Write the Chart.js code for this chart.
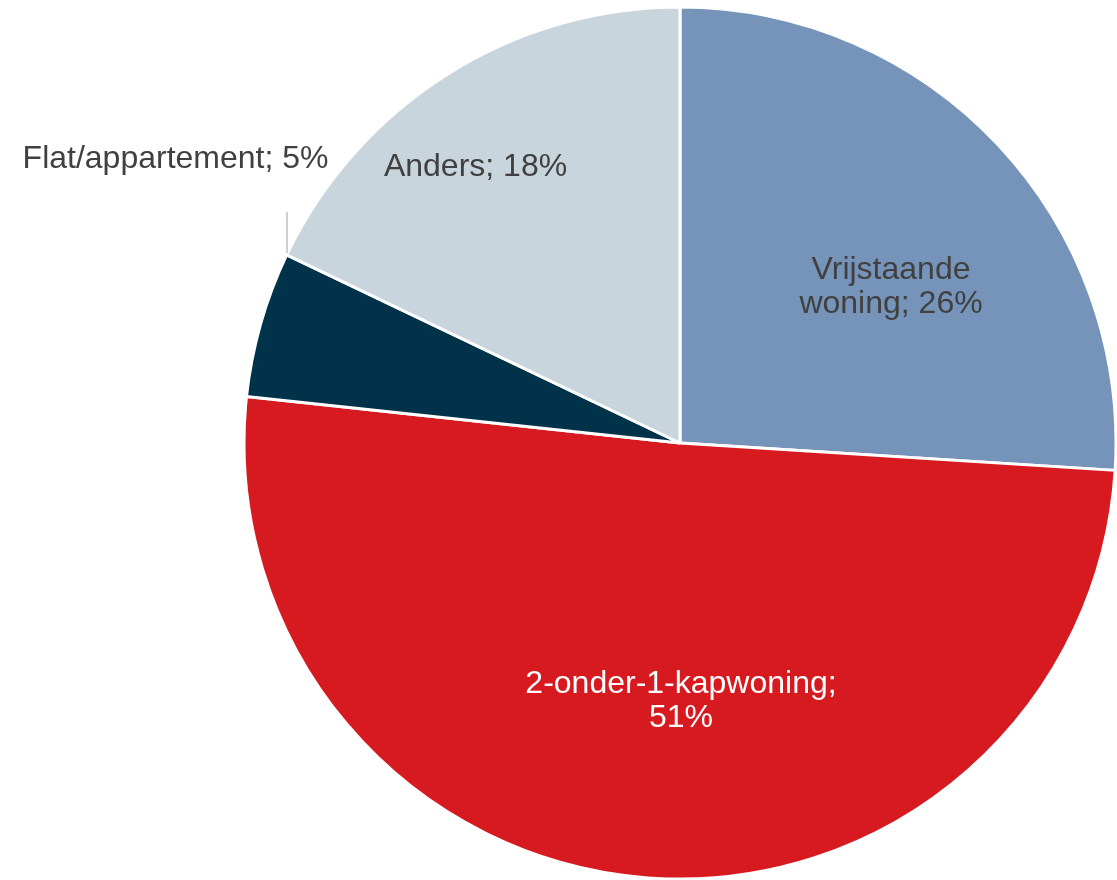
<!DOCTYPE html>
<html>
<head>
<meta charset="utf-8">
<script src="https://cdn.jsdelivr.net/npm/chart.js@4/dist/chart.umd.min.js"></script>
<style>
html,body{margin:0;padding:0;background:#fff;}
#wrap{width:1117px;height:880px;position:relative;}
</style>
</head>
<body>
<div id="wrap"><canvas id="c" width="1117" height="880"></canvas></div>
<script>
const categories = ['Vrijstaande woning', '2-onder-1-kapwoning', 'Flat/appartement', 'Anders'];
const values = [26.0, 50.7, 5.4, 17.9];
// label text split into lines; the percentage is appended from the values
const labelNameLines = [['Vrijstaande', 'woning; '], ['2-onder-1-kapwoning;', ''], ['Flat/appartement; '], ['Anders; ']];
const sliceColors = ['#7694B9', '#D71920', '#003349', '#C8D5DC'];
const labelColors = ['#404040', '#FFFFFF', '#404040', '#404040'];
// first-line baseline anchor relative to pie centre, in units of radius
const labelLayout = [
  {dx: 0.484, dy: -0.376},
  {dx: 0.0023, dy: 0.573},
  {dx: -1.157, dy: -0.631, leaderGap: 0.101},
  {dx: -0.469, dy: -0.613}
];

const labelPlugin = {
  id: 'pieLabels',
  afterDatasetsDraw(chart) {
    const ctx = chart.ctx;
    const meta = chart.getDatasetMeta(0);
    const total = values.reduce((a, b) => a + b, 0);
    ctx.save();
    ctx.font = '32px "Liberation Sans", Arial, sans-serif';
    ctx.textAlign = 'center';
    ctx.textBaseline = 'alphabetic';
    const lh = 34;
    meta.data.forEach((arc, i) => {
      const r = arc.outerRadius;
      const lay = labelLayout[i];
      const cx = arc.x + lay.dx * r;
      const cy = arc.y + lay.dy * r;
      const lines = labelNameLines[i].slice();
      lines[lines.length - 1] += Math.round(values[i] / total * 100) + '%';
      if (lay.leaderGap) {
        const a = arc.endAngle;
        const ex = arc.x + Math.cos(a) * r;
        const ey = arc.y + Math.sin(a) * r;
        ctx.strokeStyle = '#BFBFBF';
        ctx.lineWidth = 1.5;
        ctx.beginPath();
        ctx.moveTo(Math.round(ex), ey - 2);
        ctx.lineTo(Math.round(ex), cy + lay.leaderGap * r);
        ctx.stroke();
      }
      ctx.fillStyle = labelColors[i];
      lines.forEach((t, k) => ctx.fillText(t, cx, cy + k * lh));
    });
    ctx.restore();
  }
};

new Chart(document.getElementById('c'), {
  type: 'pie',
  data: {
    labels: categories,
    datasets: [{
      data: values,
      backgroundColor: sliceColors,
      borderColor: '#FFFFFF',
      borderWidth: 3,
      radius: 436
    }]
  },
  options: {
    responsive: false,
    animation: false,
    layout: {padding: {left: 245, right: 2, top: 8, bottom: 2}},
    plugins: {legend: {display: false}, tooltip: {enabled: false}}
  },
  plugins: [labelPlugin]
});
</script>
</body>
</html>
